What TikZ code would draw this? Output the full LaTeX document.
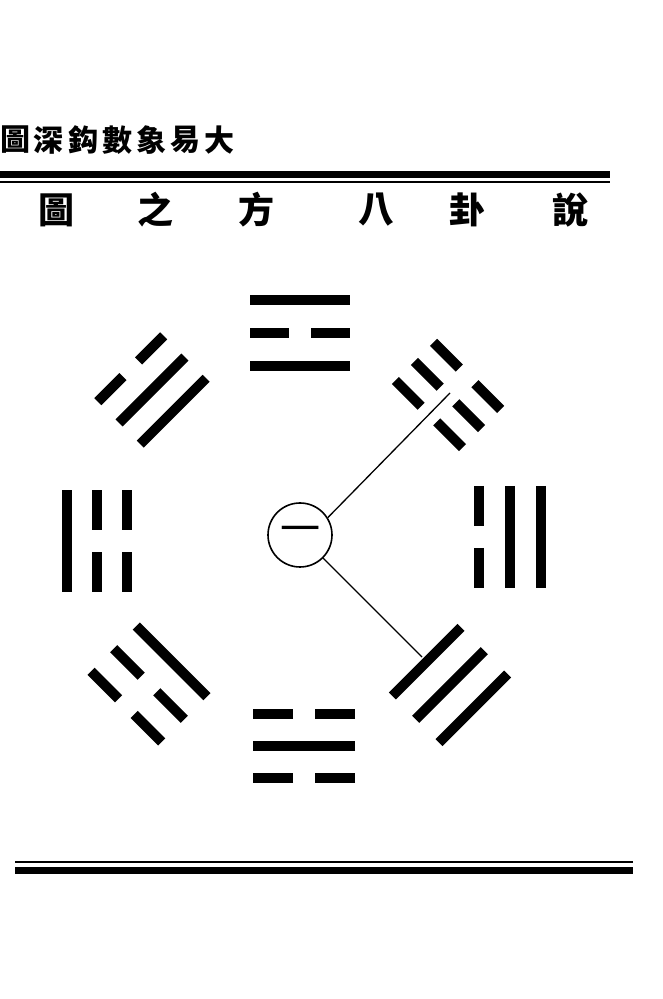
\documentclass[tikz,border=0pt]{standalone}
\usepackage{fontspec}
\newfontfamily\cjk{Noto Sans CJK TC}
\begin{document}
\begin{tikzpicture}[x=1pt,y=1pt,
    bar/.style={line width=10pt},
    rule/.style={line width=#1},
    hdr/.style={inner sep=0pt,font=\cjk\bfseries\fontsize{30}{30}\selectfont},
    ttl/.style={inner sep=0pt,font=\cjk\bfseries\fontsize{36}{36}\selectfont}]
    \useasboundingbox (0,0) rectangle (663,999);
    % En-tete
    \foreach \x/\c in {16/圖,49/深,83/鈎,117/數,151/象,185/易,219/大}{
      \node[hdr] (hd\x) at (\x,859) {\c};
    }
    \draw[rule=7pt] (0,824) -- (610,824);
    \draw[rule=2pt] (0,816.5) -- (610,816.5);
    % Titre
    \foreach \x/\c in {56/圖,155/之,256/方,376/八,467/卦,570/說}{
      \node[ttl] (tt\x) at (\x,789) {\c};
    }
    % Huit trigrammes (centre, direction, ecart, longueur, traits ext/milieu/int)
    \foreach \cx/\cy/\ang/\sp/\len/\lo/\lm/\li in {
      300/666/90/33/100/1/0/1,
      448/604/45/27/95/0/0/0,
      510/462/0/31/102/1/1/0,
      450/314/-45/33/97/1/1/1,
      304/253/-90/32/102/0/1/0,
      149/315/-135/32/100/0/0/1,
      97/458/180/30/102/1/0/0,
      152/609/135/30/93/0/1/1}{
      \begin{scope}[shift={(\cx,\cy)},rotate=\ang-90]
        \foreach \k/\t in {1/\lo,0/\lm,-1/\li}{
          \ifnum\t=1
            \draw[bar] (-\len/2,\k*\sp) -- (\len/2,\k*\sp);
          \else
            \draw[bar] (-\len/2,\k*\sp) -- (-11,\k*\sp) (11,\k*\sp) -- (\len/2,\k*\sp);
          \fi
        }
      \end{scope}
    }
    % Cercle central et liens
    \node[circle,draw,line width=1.6pt,minimum size=64pt,inner sep=0pt] (yi) at (300,464)
      {\cjk\fontsize{40}{40}\selectfont 一};
    \coordinate (kun) at (450,606);
    \coordinate (qian) at (422,342);
    \draw[line width=1.3pt] (yi.32) -- (kun);
    \draw[line width=1.3pt] (yi.-45) -- (qian);
    % Bas de page
    \draw[rule=2pt] (15,137) -- (633,137);
    \draw[rule=7pt] (15,128.5) -- (633,128.5);
  \end{tikzpicture}
\end{document}
